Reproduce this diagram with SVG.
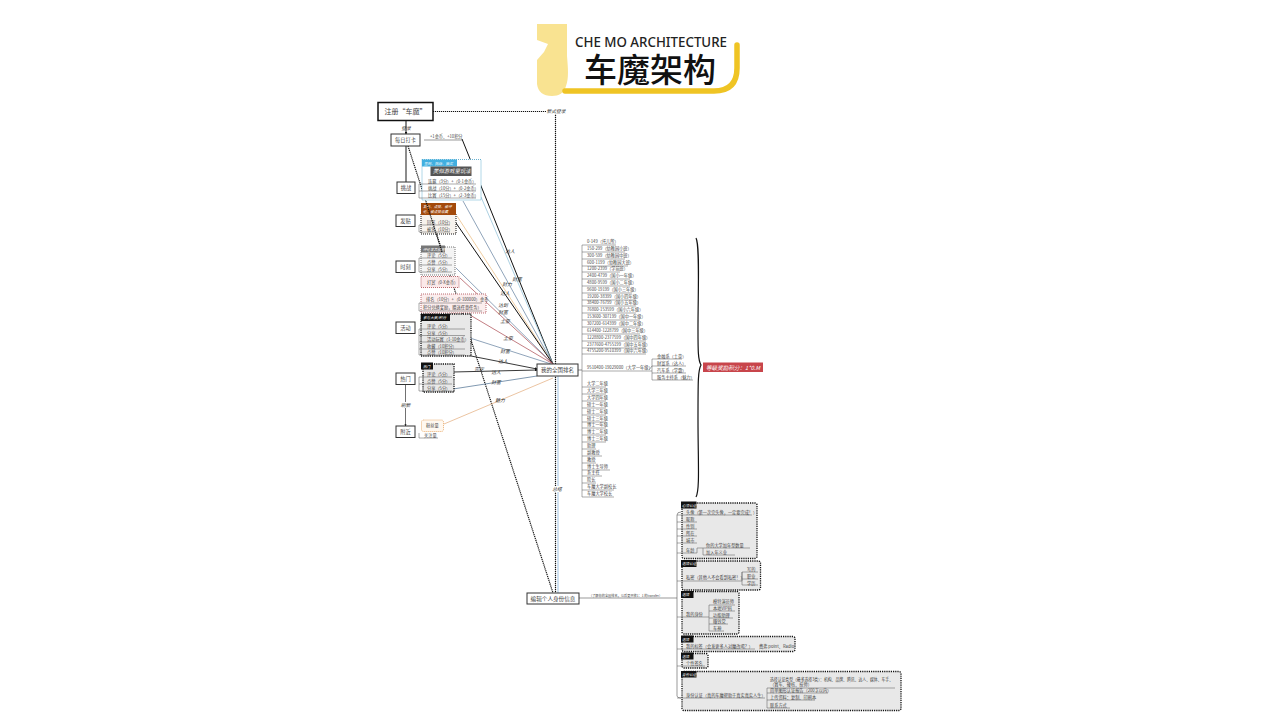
<svg xmlns="http://www.w3.org/2000/svg" width="1280" height="720" viewBox="0 0 1280 720">
<defs>
<marker id="a" viewBox="0 0 6 6" refX="5" refY="3" markerWidth="3" markerHeight="3" orient="auto"><path d="M0 0L6 3L0 6z" fill="#111"/></marker>
</defs>
<style>
text{font-family:"Noto Sans CJK SC","Noto Sans",sans-serif;fill:#444}
.n{fill:#fff;stroke:#333;stroke-width:1}
.nt{font-size:5.200px;text-anchor:middle}
.t{font-size:4.200px;fill:#444}
.r{stroke:#555;stroke-width:.5;fill:none}
.l{font-size:4.800px;font-style:italic;text-anchor:middle;fill:#333}
.h{font-size:3.600px;fill:#fff;font-style:italic}
.d{fill:none;stroke:#111;stroke-width:1.200;stroke-dasharray:1.200 .8}
.pk{fill:#e8e8e8;stroke:#111;stroke-width:1.300;stroke-dasharray:1.200 1}
.lb{fill:#fff}
</style>
<rect width="1280" height="720" fill="#fff"/>

<g id="title">
<path d="M537 24H567V56C568 68 569 78 566 86C564 93 559 96 552 96C543 96 538 92 537 84V60L544 52L548 44L537 40Z" fill="#f9e391"/>
<path d="M565 91H714Q737 91 737 68V45" fill="none" stroke="#efc424" stroke-width="5.500" stroke-linecap="round"/>
<text x="575" y="47" font-size="14.400" textLength="152" lengthAdjust="spacingAndGlyphs" style="font-family:'Noto Sans',sans-serif;fill:#222" font-weight="500">CHE MO ARCHITECTURE</text>
<text x="584" y="82" font-size="33" style="fill:#111" font-weight="500">车魔架构</text>
</g>

<g id="connectors">
<path class="d" d="M433 111.500H555.500V593"/>
<path d="M406 121V134" stroke="#111" stroke-width="1" marker-end="url(#a)"/>
<path d="M406 146V182" stroke="#666" stroke-width="1.500"/>
<path d="M405.500 385V426" stroke="#333" stroke-width=".7" marker-end="url(#a)"/>
<path class="d" d="M408 146L553 593"/>
<path d="M558 376V593" stroke="#8ab6de" stroke-width=".8"/>
<path d="M424 140H462" stroke="#555" stroke-width=".6"/>
<path d="M462 139L553 364" stroke="#111" stroke-width="1"/>
<path d="M481 197L553 364" stroke="#88bcd4" stroke-width=".7"/>
<path d="M463 201L553 364" stroke="#607d9c" stroke-width=".7"/>
<path d="M457 216L553 364" stroke="#ecc28a" stroke-width=".8"/>
<path d="M456 223L553 364" stroke="#111" stroke-width="1"/>
<path d="M456 268L553 364" stroke="#607d9c" stroke-width=".7"/>
<path d="M460 278L553 364" stroke="#a9464e" stroke-width=".7"/>
<path d="M470 315L553 364" stroke="#a9464e" stroke-width=".7"/>
<path d="M470 338L551 364" stroke="#607d9c" stroke-width=".7"/>
<path d="M471 356L537 369" stroke="#222" stroke-width=".9" marker-end="url(#a)"/>
<path d="M453 372L537 370" stroke="#222" stroke-width=".9" marker-end="url(#a)"/>
<path d="M453 389L537 376" stroke="#607d9c" stroke-width=".8"/>
<path d="M444 424L553 378" stroke="#e6b58a" stroke-width=".8"/>
<path d="M579 598H677M677 515V696Q677 698 681 698M677 515Q677 512 681 512" stroke="#555" stroke-width=".6" fill="none"/>
<path d="M578 370H582" stroke="#444" stroke-width=".6"/>
</g>

<g id="labels">
<rect class="lb" x="546" y="107" width="20" height="7"/><text class="l" x="556" y="113">新式登录</text>
<text class="l" x="406" y="130">登录</text>
<rect class="lb" x="399" y="402" width="13" height="6"/><text class="l" x="405.500" y="406.500">刷新</text>
<text class="l" x="510" y="253">达人</text><text class="l" x="517" y="281">财富</text><text class="l" x="507" y="286">财力</text>
<text class="l" x="505" y="295">达人</text><text class="l" x="503" y="307">达到</text><text class="l" x="503" y="314">财富</text>
<text class="l" x="505" y="323">土豪</text><text class="l" x="508" y="340">土豪</text><text class="l" x="505" y="353">财富</text>
<text class="l" x="503" y="363">达人</text><text class="l" x="496" y="374">达人</text><text class="l" x="496" y="384">财富</text>
<text class="l" x="500" y="402">魅力</text><text class="l" x="479" y="371">完定</text>
<rect class="lb" x="551" y="486" width="12" height="6"/><text class="l" x="557" y="491">总结</text>
</g>

<g id="n-register"><rect x="378" y="102.500" width="55" height="18" fill="#fff" stroke="#111" stroke-width="1.500"/><text class="nt" x="405.500" y="114" style="font-size:7px">注册“车魔”</text></g>
<g id="n-daily"><rect class="n" x="391" y="134" width="29" height="12"/><text class="nt" x="405.500" y="142">每日打卡</text></g>
<g id="n-challenge"><rect class="n" x="397" y="182" width="18" height="11.500"/><text class="nt" x="406" y="190">挑战</text></g>
<g id="n-post"><rect class="n" x="396" y="215" width="19" height="11.500"/><text class="nt" x="405.500" y="223">发贴</text></g>
<g id="n-moment"><rect class="n" x="396" y="261" width="19" height="11.500"/><text class="nt" x="405.500" y="269">时刻</text></g>
<g id="n-activity"><rect class="n" x="396" y="322" width="19" height="11.500"/><text class="nt" x="405.500" y="330">活动</text></g>
<g id="n-hot"><rect class="n" x="396" y="373" width="19" height="11.500"/><text class="nt" x="405.500" y="381">热门</text></g>
<g id="n-near"><rect class="n" x="396" y="426" width="19" height="11.500"/><text class="nt" x="405.500" y="434">附近</text></g>
<g id="n-rank"><rect class="n" x="537" y="364" width="41" height="12"/><text class="nt" x="557.500" y="372" style="font-size:5.500px">我的全国排名</text></g>
<g id="n-edit"><rect class="n" x="527" y="593" width="52" height="11"/><text class="nt" x="553" y="600.500" style="font-size:5.600px">编辑个人身份信息</text></g>

<g id="p-coin"><text class="t" x="430" y="138">+1金币、+10积分</text></g>

<g id="p-challenge">
<rect x="422" y="159.500" width="59" height="40.500" fill="#fff" stroke="#3f9cc4" stroke-width=".8" stroke-dasharray="1 1"/>
<rect x="422" y="159.500" width="35" height="7" fill="#41afe0"/><text class="h" x="424" y="164.500">签到、挑战、抽奖</text>
<rect x="430.500" y="166.500" width="41" height="9.500" fill="#555"/><text class="h" x="433" y="173" style="font-size:5.400px">类似游戏里玩法</text>
<path class="r" d="M419 184H476M419 191H476M419 198H476M419 184V198"/>
<text class="t" x="428" y="183">连赢（3分）+（0-1金币）</text><text class="t" x="428" y="190">挑战（10分）+（0-2金币）</text><text class="t" x="428" y="197">比赛（15分）+（2-3金币）</text>
</g>

<g id="p-post">
<rect x="421" y="213" width="35" height="21" fill="#f7f3ee" stroke="#111" stroke-width="1" stroke-dasharray="1 1"/>
<rect x="421" y="203" width="35" height="12" fill="#a34a0b"/><text class="h" x="423" y="208">发行、点赞、被评</text><text class="h" x="423" y="213">论、被点赞收藏</text>
<path class="r" d="M419 225H450M419 232H450M419 225V232"/>
<text class="t" x="427" y="224">回答（10分）</text><text class="t" x="427" y="231">被答（10分）</text>
</g>

<g id="p-moment">
<rect x="421" y="247" width="34" height="28" fill="#f4f4f4" stroke="#555" stroke-width=".8" stroke-dasharray="1 1"/>
<rect x="421" y="245.500" width="24" height="7" fill="#777"/><text class="h" x="423" y="250.500">评论发表获赠</text>
<path class="r" d="M419 258H452M419 265H452M419 272H452M419 258V272"/>
<text class="t" x="427" y="257">评论（5分）</text><text class="t" x="427" y="264">点赞（5分）</text><text class="t" x="427" y="271">分享（5分）</text>
<rect x="421" y="276.500" width="38" height="11" fill="#fbe9e9" stroke="#a9464e" stroke-width=".8" stroke-dasharray="1 1"/>
<text class="t" x="427" y="284">打赏（0-X金币）</text>
</g>

<g id="p-rankgift">
<rect x="421" y="294" width="65" height="19" fill="#fbeded" stroke="#a9464e" stroke-width=".8" stroke-dasharray="1 1"/>
<path class="r" d="M419 303H482M419 311H482M419 303V311"/>
<text class="t" x="426" y="301">排名（10分）+（0-100000）金币</text><text class="t" x="423" y="308.500">积分兑换奖励，赠送任意任务）</text>
</g>

<g id="p-activity">
<rect class="pk" x="421" y="314" width="50" height="42"/>
<rect x="421" y="314" width="29" height="7" fill="#111"/><text class="h" x="423" y="319">参与大赛/积分</text>
<path class="r" d="M419 329H465M419 335.500H465M419 342H465M419 349H465M419 355H465M419 329V355"/>
<text class="t" x="427" y="328">评论（5分）</text><text class="t" x="427" y="334.500">分享（5分）</text><text class="t" x="427" y="341">活动玩赛（1-10金币）</text><text class="t" x="427" y="348">收藏（10积分）</text><text class="t" x="427" y="354">点赞（10积分）</text>
</g>

<g id="p-hot">
<rect class="pk" x="423" y="364" width="31" height="28"/>
<rect x="421" y="362.500" width="12" height="7" fill="#111"/><text class="h" x="423" y="367.500">热门</text>
<path class="r" d="M419 377H452M419 384H452M419 391H452M419 377V391"/>
<text class="t" x="427" y="376">评论（5分）</text><text class="t" x="427" y="383">点赞（5分）</text><text class="t" x="427" y="390">分享（5分）</text>
</g>

<g id="p-near">
<rect x="421.500" y="420" width="22" height="11.500" rx="2" fill="#fff8f0" stroke="#e49a4c" stroke-width=".8" stroke-dasharray="1 1"/>
<text class="t" x="426" y="427">粉丝量</text>
<path class="r" d="M419 433V438H438"/><text class="t" x="424" y="437">关注量</text>
</g>

<g id="over"><path class="d" d="M426.500 203L442 252" stroke-width="1"/></g>

<g id="p-levels">
<path class="r" d="M582 245V497"/>
<path class="r" d="M582 245H616M582 252H625M582 259H625M582 266H628M582 272H620M582 279H630M582 286H630M582 293H632M582 300H636M582 306H636M582 313H636M582 320H640M582 327H640M582 334H640M582 341H646M582 348H646M582 354H646M582 371H652M582 387H606M582 394H606M582 401H606M582 408H606M582 415H606M582 422H606M582 428H606M582 435H606M582 442H606M582 449H596M582 456H602M582 463H596M582 470H610M582 476H602M582 483H596M582 490H614M582 497H614"/>
<text class="t" x="587" y="243">0-149（托儿所）</text><text class="t" x="587" y="250">150-299（幼稚园小班）</text><text class="t" x="587" y="257">300-599（幼稚园中班）</text><text class="t" x="587" y="264">600-1199（幼稚园大班）</text><text class="t" x="587" y="270">1200-2399（学前班）</text><text class="t" x="587" y="277">2400-4799（国小一年级）</text><text class="t" x="587" y="284">4800-9599（国小二年级）</text><text class="t" x="587" y="291">9600-19199（国小三年级）</text><text class="t" x="587" y="298">19200-38399（国小四年级）</text><text class="t" x="587" y="304">38400-76799（国小五年级）</text><text class="t" x="587" y="311">76800-153599（国小六年级）</text><text class="t" x="587" y="318">153600-307199（国中一年级）</text><text class="t" x="587" y="325">307200-614399（国中二年级）</text><text class="t" x="587" y="332">614400-1228799（国中三年级）</text><text class="t" x="587" y="339">1228800-2377599（国中四年级）</text><text class="t" x="587" y="346">2377600-4755199（国中五年级）</text><text class="t" x="587" y="352">4755200-9510399（国中六年级）</text>
<text class="t" x="587" y="369">9510400-19029000（大学一年级）</text>
<text class="t" x="587" y="385">大学二年级</text><text class="t" x="587" y="392">大学三年级</text><text class="t" x="587" y="399">大学四年级</text><text class="t" x="587" y="406">硕士一年级</text><text class="t" x="587" y="413">硕士二年级</text><text class="t" x="587" y="420">硕士三年级</text><text class="t" x="587" y="426">博士一年级</text><text class="t" x="587" y="433">博士二年级</text><text class="t" x="587" y="440">博士三年级</text><text class="t" x="587" y="447">助理</text><text class="t" x="587" y="454">副教授</text><text class="t" x="587" y="461">教授</text><text class="t" x="587" y="468">博士生导师</text><text class="t" x="587" y="474">系主任</text><text class="t" x="587" y="481">院长</text><text class="t" x="587" y="488">车魔大学副校长</text><text class="t" x="587" y="495">车魔大学校长</text>
<path class="r" d="M652 359V380M649 370L652 366M652 359H682M652 366H686M652 373H686M652 380H693"/>
<text class="t" x="657" y="358">金融系（土豪）</text><text class="t" x="657" y="365">财富系（达人）</text><text class="t" x="657" y="372">汽车系（学霸）</text><text class="t" x="657" y="379">服务主持系（魅力）</text>
<path d="M696 238C700 245 698 290 698 330C698 350 698 360 701 365C698 370 698 380 698 420C698 460 700 490 696 497" fill="none" stroke="#111" stroke-width="1.200"/>
<rect x="703" y="362.500" width="60" height="9.500" fill="#c8454b"/>
<text x="733" y="369.500" font-size="5.600" text-anchor="middle" font-style="italic" style="fill:#fff">等级奖励积分：1*0.M</text>
</g>

<g id="p-edit-note"><text class="t" x="589" y="596.500" style="font-size:3.200px">（了解你的全国排名，以后更开放1：1 的transfer）</text></g>

<g id="p-a">
<rect class="pk" x="682" y="503" width="75" height="55.500" rx="2"/>
<rect x="681" y="501.500" width="15.500" height="7" fill="#111"/><text class="h" x="682" y="506.500">必须认证</text>
<path class="r" d="M677 515H752M677 522H697M677 529H697M677 536H697M677 543H697M677 553H697M697 553V548H750M703 555H735M703 548V555"/>
<text class="t" x="686" y="514">头像（第一次完头像，一定要完成！）</text><text class="t" x="686" y="521">昵称</text><text class="t" x="686" y="528">性别</text><text class="t" x="686" y="535">所在</text><text class="t" x="686" y="542">城市</text><text class="t" x="686" y="551.500">年龄</text>
<text class="t" x="706" y="547">你的大学加年型数量</text><text class="t" x="706" y="554">加入年义业</text>
</g>
<g id="p-b">
<rect class="pk" x="682" y="561" width="78.500" height="29" rx="2"/>
<rect x="681" y="560" width="15.500" height="7" fill="#111"/><text class="h" x="682" y="565">选填认证</text>
<path class="r" d="M677 581H742V572H758M742 579H758M742 585H758M742 572V585"/>
<text class="t" x="686" y="579">私密（其他人不会看到私密！）</text><text class="t" x="747" y="571">写的</text><text class="t" x="747" y="578">职业</text><text class="t" x="747" y="584.500">学历</text>
</g>
<g id="p-c">
<rect class="pk" x="682" y="591.500" width="57" height="42.500" rx="2"/>
<rect x="681" y="591" width="12.500" height="7" fill="#111"/><text class="h" x="682" y="596">选填</text>
<path class="r" d="M677 617H709M709 605V631M709 605H735M709 611H735M709 618H733M709 624H728M709 631H724"/>
<text class="t" x="686" y="616">我的身份</text><text class="t" x="713" y="603">模特演员师</text><text class="t" x="713" y="610">本地VIP码</text><text class="t" x="713" y="617">功能助理</text><text class="t" x="713" y="623">赚钱党</text><text class="t" x="713" y="630">车神</text>
</g>
<g id="p-d">
<rect class="pk" x="682" y="636.500" width="113" height="15" rx="2"/>
<rect x="681" y="635.500" width="12.500" height="7" fill="#111"/><text class="h" x="682" y="640.500">选填</text>
<path class="r" d="M677 649H755"/>
<text class="t" x="686" y="648">我的标签（会发更多人对魔改喝？）</text><text class="t" x="759" y="648">费弗 point、Radio</text>
</g>
<g id="p-e">
<rect class="pk" x="682" y="653.500" width="26" height="14.500" rx="2"/>
<rect x="681" y="652.500" width="12.500" height="7" fill="#111"/><text class="h" x="682" y="657.500">选填</text>
<path class="r" d="M677 666H705"/><text class="t" x="686" y="665">个性签名</text>
</g>
<g id="p-f">
<rect class="pk" x="682" y="671.500" width="219" height="39" rx="2"/>
<rect x="681" y="671" width="15.500" height="6.500" fill="#111"/><text class="h" x="682" y="676">身份认证</text>
<path class="r" d="M677 698H765M767 688V708M767 693H828M767 700H815M767 708H790M767 688H895"/>
<text class="t" x="686" y="696.500">身份认证（真的车魔帮助于真实真实人生）</text>
<text class="t" x="770" y="681" textLength="123" lengthAdjust="spacingAndGlyphs">选择认证类型（最多选择3类）：机构、品牌、腾讯、达人、媒体、车手、</text><text class="t" x="770" y="686">（赛车、硬核、技师）</text>
<text class="t" x="770" y="692">简单图形认证报告（200字以内）</text><text class="t" x="770" y="699">上传资料：复制、印刷本</text><text class="t" x="770" y="706.500">联系方式</text>
</g>
</svg>
